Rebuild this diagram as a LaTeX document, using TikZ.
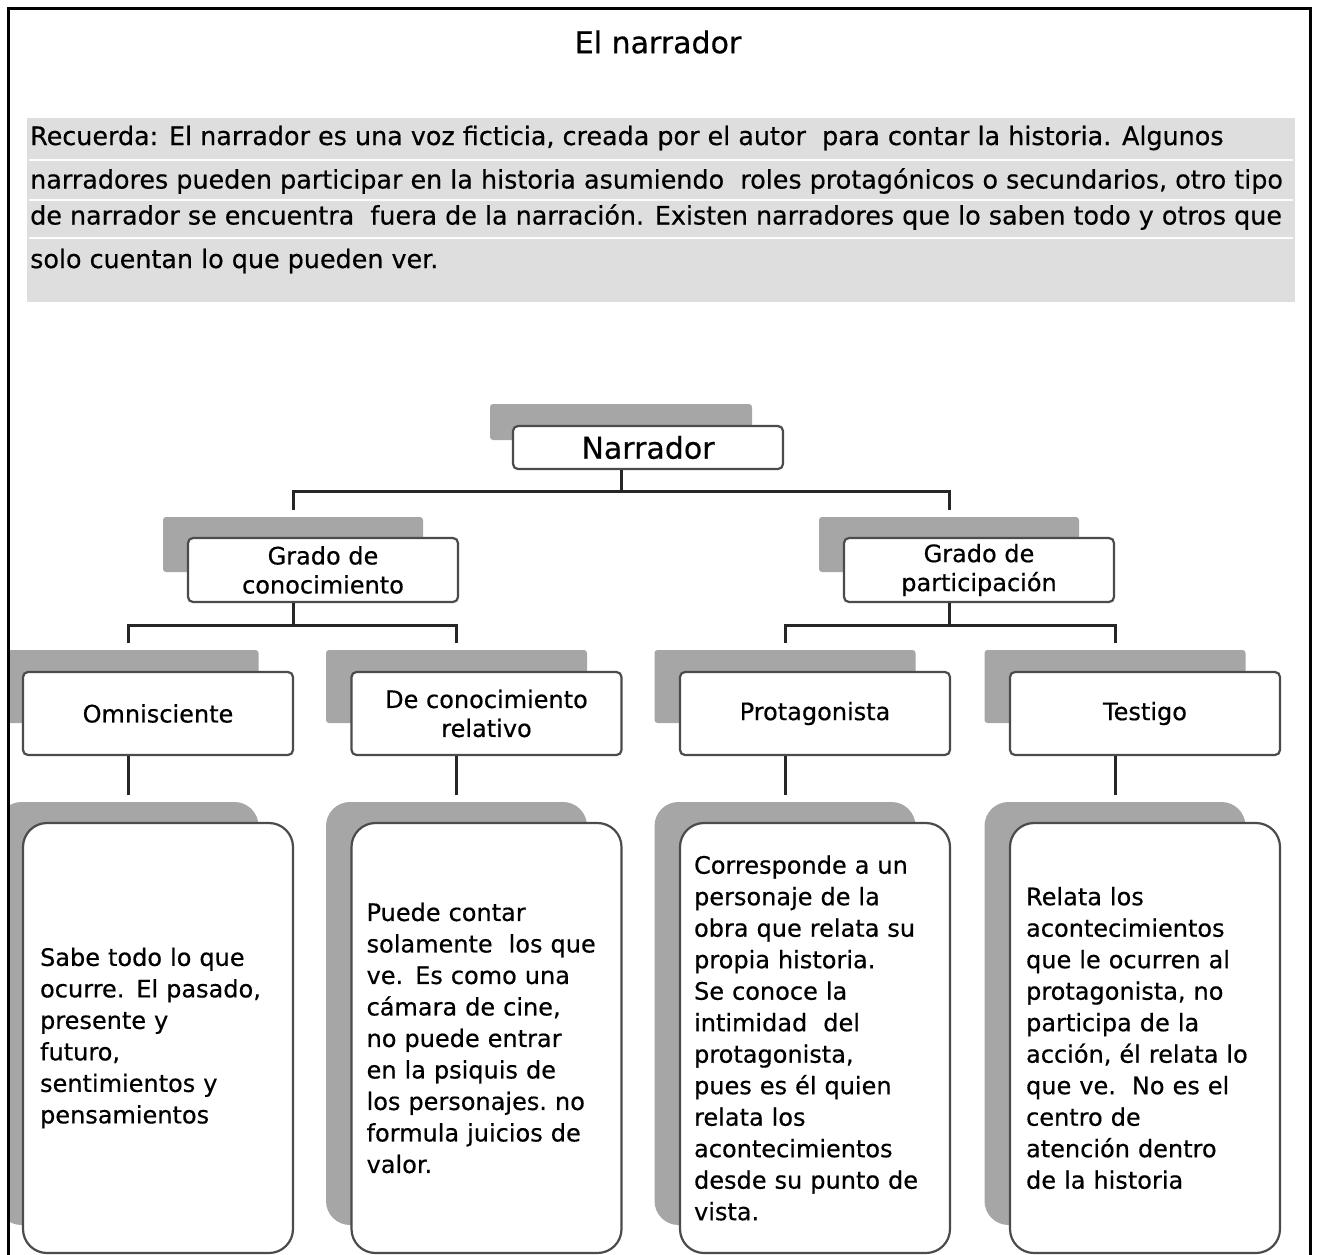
\documentclass[tikz,border=0pt]{standalone}
\usepackage{fontspec}
\setmainfont{DejaVu Sans}[FakeBold=0.5]
\usetikzlibrary{positioning,calc}
\definecolor{grissombra}{RGB}{166,166,166}
\definecolor{grisborde}{RGB}{75,75,75}
\definecolor{grisrecuadro}{RGB}{222,222,222}
\tikzset{
  sombra/.style={fill=grissombra, draw=none, rounded corners=3pt, inner sep=0pt},
  caja/.style={fill=white, draw=grisborde, line width=2.2pt, rounded corners=5pt,
    align=center, inner sep=0pt, font=\fontsize{24}{29}\selectfont},
  tarjeta/.style={caja, rounded corners=24pt},
  sombratarjeta/.style={sombra, rounded corners=24pt},
  texto/.style={anchor=west, inner sep=0pt, text width=245pt, align=left,
    font=\fontsize{24}{31.5}\selectfont},
  conector/.style={line width=3pt, draw=black!85, shorten >=7pt},
  renglon/.style={anchor=west, inner sep=0pt, font=\fontsize{25.4}{30}\selectfont}
}

\begin{document}
\begin{tikzpicture}[x=1pt,y=-1pt]
  \useasboundingbox (0,0) rectangle (1317,1255);

  % titulo y recuadro
  \node[font=\fontsize{30}{36}\selectfont] (titulo) at (658,42) {El narrador};
  \fill[grisrecuadro] (27,118) rectangle (1295,302);
  \foreach \y in {160,200,238}
    \draw[white!90!grisrecuadro, line width=1.2pt] (29,\y) -- (1293,\y);
  \node[renglon] (p1) at (30,138) {Recuerda: El narrador es una voz ficticia, creada por el autor\ \ para contar la historia. Algunos};
  \node[renglon] (p2) at (30,181) {narradores pueden participar en la historia asumiendo\ \ roles protagónicos o secundarios, otro tipo};
  \node[renglon] (p3) at (30,217) {de narrador se encuentra\ \ fuera de la narración. Existen narradores que lo saben todo y otros que};
  \node[renglon] (p4) at (30,261) {solo cuentan lo que pueden ver.};

  \begin{scope}
    \clip (9.5,9.5) rectangle (1308.5,1255);

    % raiz
    \node[sombra, minimum width=262pt, minimum height=36pt] (snarr) at (621,422) {};
    \node[caja, minimum width=270pt, minimum height=43pt,
      font=\fontsize{30}{36}\selectfont] (narr) at (648,447.5) {Narrador};

    % segundo nivel
    \node[sombra, minimum width=260pt, minimum height=55pt] (sgc) at (293,544.5) {};
    \node[caja, minimum width=270pt, minimum height=64pt] (gc) at (323,570) {Grado de\\conocimiento};
    \node[sombra, minimum width=260pt, minimum height=55pt] (sgp) at (949,544.5) {};
    \node[caja, minimum width=270pt, minimum height=64pt] (gp) at (979,570) {Grado de\\participación};

    % tercer nivel y tarjetas
    \foreach \n/\xs/\txt in {om/128/Omnisciente, dc/456.5/{De conocimiento\\relativo},
                             pr/785/Protagonista, te/1115/Testigo} {
      \node[sombra, minimum width=261pt, minimum height=73pt] (s\n) at (\xs,686.5) {};
      \node[caja, minimum width=270pt, minimum height=83pt] (\n) at (\xs+30,713.5) {\txt};
      \node[sombratarjeta, minimum width=261pt, minimum height=423pt] (sk\n) at (\xs,1013.5) {};
      \node[tarjeta, minimum width=270pt, minimum height=430pt] (k\n) at (\xs+30,1038) {};
    }

    \node[texto] (tom) at ([xshift=18pt]kom.west) {Sabe todo lo que\\ocurre. El pasado,\\presente y\\futuro,\\sentimientos y\\pensamientos};
    \node[texto] (tdc) at ([xshift=16pt]kdc.west) {Puede contar\\solamente\ \ los que\\ve. Es como una\\cámara de cine,\\no puede entrar\\en la psiquis de\\los personajes.\ no\\formula juicios de\\valor.};
    \node[texto] (tpr) at ([xshift=15pt]kpr.west) {Corresponde a un\\personaje de la\\obra que relata su\\propia historia.\\Se conoce la\\intimidad\ \ del\\protagonista,\\pues es él quien\\relata los\\acontecimientos\\desde su punto de\\vista.};
    \node[texto] (tte) at ([xshift=17pt]kte.west) {Relata los\\acontecimientos\\que le ocurren al\\protagonista,\ no\\participa de la\\acción, él relata lo\\que ve.\ \ No es el\\centro de\\atención dentro\\de la historia};

    % conectores
    \draw[conector] (snarr |- narr.south) -- ++(0,21) -| (sgc.north);
    \draw[conector] (snarr |- narr.south) -- ++(0,21) -| (sgp.north);
    \draw[conector] (sgc |- gc.south) -- ++(0,22) -| (som.north);
    \draw[conector] (sgc |- gc.south) -- ++(0,22) -| (sdc.north);
    \draw[conector] (sgp |- gp.south) -- ++(0,22) -| (spr.north);
    \draw[conector] (sgp |- gp.south) -- ++(0,22) -| (ste.north);
    \foreach \n in {om,dc,pr,te}
      \draw[conector] (s\n |- \n.south) -- (sk\n.north);
  \end{scope}

  % marco
  \draw[line width=3pt] (8,1255) -- (8,9) -- (1310,9) -- (1310,1255);
\end{tikzpicture}
\end{document}
